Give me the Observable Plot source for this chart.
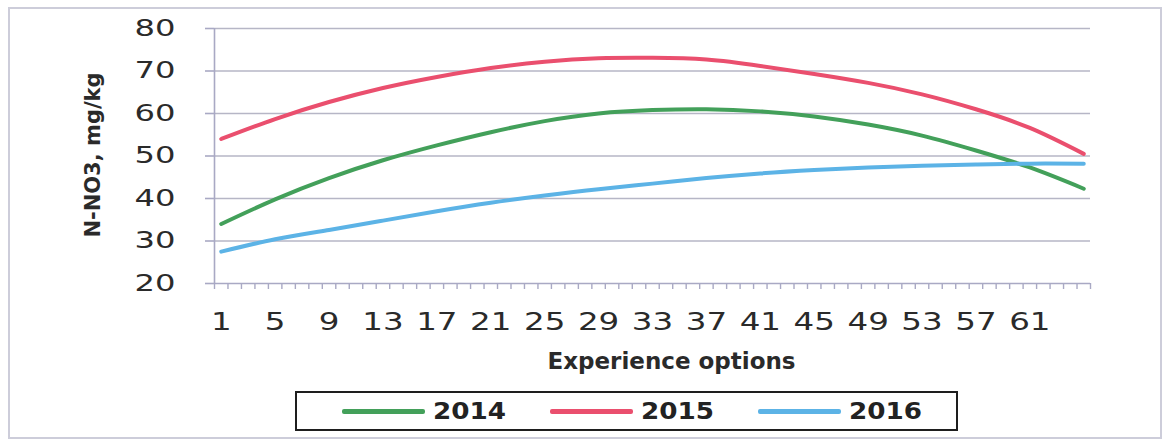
<!DOCTYPE html>
<html>
<head>
<meta charset="utf-8">
<script src="https://cdn.jsdelivr.net/npm/d3@7"></script>
<script src="https://cdn.jsdelivr.net/npm/@observablehq/plot@0.6"></script>
<style>
  body { margin: 0; background: #fff; }
  #chart { position: relative; width: 1166px; height: 444px; overflow: hidden; }
  #frame { position: absolute; left: 8px; top: 7px; width: 1154px; height: 432px;
           border: 2px solid #cdcdda; box-sizing: border-box; pointer-events: none; }
  #plot { position: absolute; left: 0; top: 0; }
  #legend { position: absolute; left: 295px; top: 391px; width: 663px; height: 40px;
            border: 2px solid #1e1e1e; box-sizing: border-box; background: #fff;
            display: flex; align-items: center; padding-left: 45px;
            font-family: "DejaVu Sans", sans-serif; font-weight: bold; font-size: 23px; color: #222; }
  .item { display: flex; align-items: center; margin-right: 45px; }
  .swatch { width: 83px; height: 5px; border-radius: 2px; margin-right: 8px; }
  .year { display: inline-block; width: 72px; transform: scaleX(1.14); transform-origin: left center; }
</style>
</head>
<body>
<div id="chart">
  <div id="plot"></div>
  <div id="frame"></div>
  <div id="legend"></div>
</div>
<script>
// Experience options (every 4th option, curves are smoothed between them)
const options = [1, 5, 9, 13, 17, 21, 25, 29, 33, 37, 41, 45, 49, 53, 57, 61, 65];
// N-NO3 content, mg/kg
const n2014 = [34, 39.8, 44.8, 49, 52.5, 55.6, 58.2, 60, 60.8, 61, 60.5, 59.3, 57.4, 54.8, 51.3, 47.3, 42.3];
const n2015 = [54, 58.7, 62.7, 66, 68.6, 70.7, 72.2, 73, 73.1, 72.7, 71.2, 69.3, 67.2, 64.5, 61, 56.6, 50.5];
const n2016 = [27.5, 30.4, 32.6, 34.8, 37, 39, 40.7, 42.2, 43.5, 44.8, 45.9, 46.7, 47.3, 47.7, 48, 48.2, 48.2];

const years = ["2014", "2015", "2016"];
const seriesColors = ["#43a05a", "#ea4f6e", "#5cb3e6"];
const categoryCount = 65;
const xTickLabels = [1, 5, 9, 13, 17, 21, 25, 29, 33, 37, 41, 45, 49, 53, 57, 61];
const yTicks = [20, 30, 40, 50, 60, 70, 80];
const xTitle = "Experience options";
const yTitle = "N-NO3, mg/kg";

const seriesValues = [n2014, n2015, n2016];
const rows = years.flatMap((year, s) =>
  options.map((option, i) => ({year, option, value: seriesValues[s][i]}))
);

const axisColor = "#a9a9c4";
const gridColor = "#b6b6c6";
const textColor = "#2a2a2a";

const chart = Plot.plot({
  width: 1166,
  height: 444,
  marginLeft: 214,
  marginRight: 76,
  marginTop: 28,
  marginBottom: 161,
  x: {domain: [0.5, categoryCount + 0.5]},
  y: {domain: [20, 80]},
  color: {domain: years, range: seriesColors},
  style: {background: "transparent", fontFamily: "DejaVu Sans, sans-serif", color: textColor, overflow: "visible"},
  marks: [
    Plot.gridY(yTicks.slice(1), {stroke: gridColor, strokeOpacity: 1, strokeWidth: 1.6}),
    Plot.ruleY([20], {stroke: axisColor, strokeWidth: 1.6}),
    Plot.ruleX([0.5], {stroke: axisColor, strokeWidth: 1.6}),
    // minor ticks between categories
    Plot.axisX(d3.range(0.5, categoryCount + 1, 1), {tickSize: 6, stroke: axisColor, strokeWidth: 1.4, tickFormat: () => "", label: null}),
    Plot.axisX(xTickLabels, {tickSize: 0, tickPadding: 29, fontSize: 25, label: null, fill: textColor}),
    Plot.axisY(yTicks, {tickSize: 9, tickPadding: 30, fontSize: 23, label: null, stroke: axisColor, strokeWidth: 1.6, fill: textColor}),
    Plot.line(rows, {x: "option", y: "value", z: "year", stroke: "year", strokeWidth: 4, curve: "natural"}),
    Plot.text([xTitle], {frameAnchor: "bottom", dy: 85, dx: 19, fontSize: 23, fontWeight: "bold", fill: textColor, ariaLabel: "x-title"}),
    Plot.text([yTitle], {frameAnchor: "left", textAnchor: "middle", rotate: -90, dx: -121, dy: -1, fontSize: 21, fontWeight: "bold", fill: textColor, ariaLabel: "y-title"})
  ]
});
document.getElementById("plot").appendChild(chart);

// widen glyphs horizontally around each label's anchor
function widen(selector, sx, sy) {
  chart.querySelectorAll(selector).forEach((t) => {
    const tr = t.getAttribute("transform") || "";
    t.setAttribute("transform", `${tr} scale(${sx},${sy})`);
  });
}
widen('g[aria-label="x-axis tick label"] text', 1.3, 1);
widen('g[aria-label="y-axis tick label"] text', 1.4, 1);
widen('g[aria-label="x-title"] text', 1.28, 1);
widen('g[aria-label="y-title"] text', 1, 1.3);

// legend
const legend = document.getElementById("legend");
years.forEach((year, i) => {
  const item = document.createElement("div");
  item.className = "item";
  const sw = document.createElement("div");
  sw.className = "swatch";
  sw.style.background = seriesColors[i];
  const label = document.createElement("span");
  label.className = "year";
  label.textContent = year;
  item.append(sw, label);
  legend.appendChild(item);
});
</script>
</body>
</html>
